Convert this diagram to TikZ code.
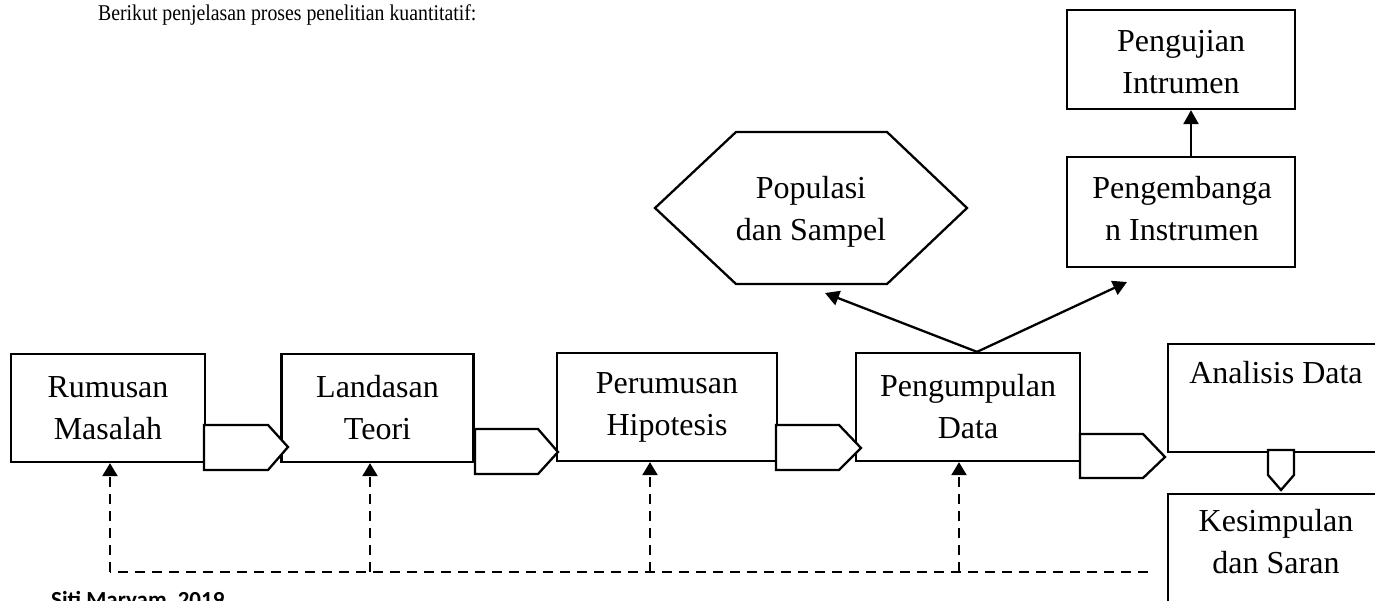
\documentclass[tikz,border=0pt]{standalone}
\usepackage{fontspec}
\setmainfont{Liberation Serif}
\newfontfamily\headfont{Liberation Serif}[FakeStretch=0.88]
\newfontfamily\footfont{Carlito}
\usetikzlibrary{arrows.meta}
\begin{document}
\begin{tikzpicture}[x=1pt,y=-1pt,line width=2.3pt,
  box/.style={draw,rectangle,inner sep=0pt,align=center,
    font=\fontsize{32}{42}\selectfont},
  lbl/.style={inner sep=0pt,align=center,font=\fontsize{32}{42}\selectfont},
  conn/.style={draw,fill=white,line join=miter},
  arr/.style={-{Triangle[length=14pt,width=15pt]}},
  fb/.style={dash pattern=on 10pt off 7pt,-{Triangle[length=13pt,width=15pt]}},
  fbline/.style={dash pattern=on 10pt off 7pt}]
\useasboundingbox (0,0) rectangle (1375,600);
\clip (0,0) rectangle (1375,600);

% header
\node[inner sep=0pt,anchor=base west,font=\headfont\fontsize{22.5}{26}\selectfont] (head) at (97,20)
  {Berikut penjelasan proses penelitian kuantitatif:};

% main boxes
\node[box,minimum width=194pt,minimum height=108pt] (b1) at (108,408) {Rumusan\\Masalah};
\node[box,minimum width=192pt,minimum height=108pt] (b2) at (377.5,408) {Landasan\\Teori};
\node[box,minimum width=220pt,minimum height=108pt] (b3) at (667,407) {Perumusan\\Hipotesis};
\node[box,minimum width=224pt,minimum height=108pt] (b4) at (968,407) {Pengumpulan\\Data};
\node[box,minimum width=217pt,minimum height=108pt] (b5) at (1276.5,398) {};
\node[lbl,anchor=base] (t5) at (1276,383) {Analisis Data};
\node[box,minimum width=217pt,minimum height=130pt] (b6) at (1276.5,559) {};
\node[lbl,anchor=base] (t6) at (1276,573) {Kesimpulan\\dan Saran};

% upper boxes
\node[box,minimum width=228pt,minimum height=110pt] (pe) at (1181,212) {};
\node[lbl,anchor=base] (tpe) at (1182,240) {Pengembanga\\n Instrumen};
\node[box,minimum width=228pt,minimum height=99pt] (pu) at (1181,59.5) {};
\node[lbl,anchor=base] (tpu) at (1181,93) {Pengujian\\Intrumen};

% hexagon
\draw[line join=miter] (736,132) -- (887,132) -- (967,208) -- (887,284) -- (736,284) -- (655,208) -- cycle;
\node[lbl,anchor=base] (hex) at (811,240) {Populasi\\dan Sampel};

% block-arrow connectors
\path[conn] (204,425) -- (268,425) -- (288,447) -- (268,470) -- (204,470) -- cycle;
\path[conn] (475,429) -- (538,429) -- (558,452) -- (538,474) -- (475,474) -- cycle;
\path[conn] (776,425) -- (839,425) -- (861,448) -- (839,470) -- (776,470) -- cycle;
\path[conn] (1080,434) -- (1143,434) -- (1165,457) -- (1143,478) -- (1080,478) -- cycle;
\path[conn] (1268,450) -- (1294,450) -- (1294,475) -- (1281,490) -- (1268,475) -- cycle;

% solid arrows
\coordinate (hexend) at (825,293);
\coordinate (peend) at (1127,282);
\draw[arr] ([xshift=9pt]b4.north) -- (hexend);
\draw[arr] ([xshift=9pt]b4.north) -- (peend);
\draw[arr] ([xshift=10pt]pe.north) -- ([xshift=10pt]pu.south);

% dashed feedback
\coordinate (d1) at (110,572);
\coordinate (d2) at (370,572);
\coordinate (d3) at (650,572);
\coordinate (d4) at (959,572);
\coordinate (dend) at (1148,572);
\draw[fbline] (dend) -- (d1);
\draw[fb] (d1) -- (d1 |- b1.south);
\draw[fb] (d2) -- (d2 |- b2.south);
\draw[fb] (d3) -- (d3 |- b3.south);
\draw[fb] (d4) -- (d4 |- b4.south);

% footer
\node[inner sep=0pt,anchor=base west,font=\footfont\bfseries\fontsize{23}{26}\selectfont] (foot) at (50,607)
  {Siti Maryam, 2019};
\end{tikzpicture}
\end{document}
